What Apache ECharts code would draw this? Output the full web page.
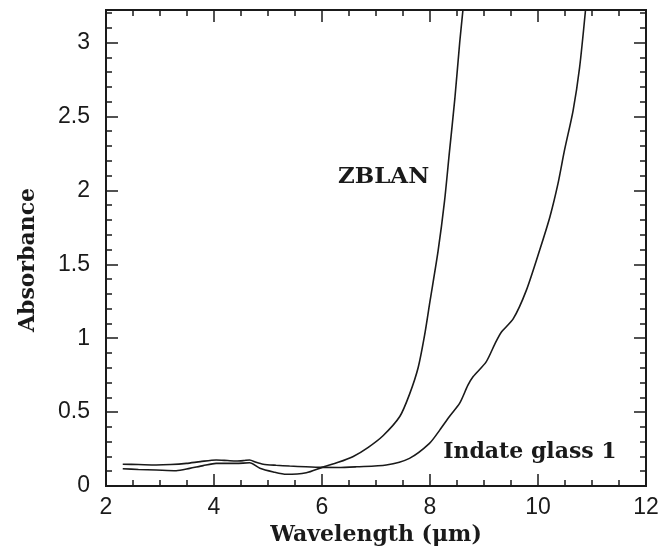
<!DOCTYPE html>
<html>
<head>
<meta charset="utf-8">
<style>
  html, body { margin: 0; padding: 0; background: #fff; }
  #chart { width: 662px; height: 556px; }
</style>
<script src="https://cdn.jsdelivr.net/npm/echarts@6/dist/echarts.min.js"></script>
</head>
<body>
<div id="chart"></div>
<script>
// Absorbance spectra of the two glasses (wavelength in µm)
const zblanWavelength = [2.31, 2.6, 2.93, 3.3, 3.55, 3.8, 4.04, 4.41, 4.66, 4.85, 5.1, 5.34, 5.71, 6.0, 6.3, 6.57, 6.85, 7.13, 7.44, 7.62, 7.78, 7.9, 8.0, 8.15, 8.27, 8.36, 8.46, 8.55, 8.61];
const zblanAbsorbance = [0.117, 0.112, 0.108, 0.103, 0.119, 0.138, 0.153, 0.153, 0.157, 0.12, 0.095, 0.079, 0.09, 0.126, 0.16, 0.198, 0.26, 0.34, 0.47, 0.62, 0.8, 1.02, 1.25, 1.59, 1.93, 2.26, 2.62, 3.0, 3.22];

const indateWavelength = [2.31, 2.6, 2.93, 3.2, 3.49, 3.75, 4.04, 4.25, 4.41, 4.55, 4.66, 4.78, 4.91, 5.15, 5.4, 5.7, 6.0, 6.3, 6.64, 7.19, 7.62, 7.99, 8.18, 8.36, 8.55, 8.7, 8.8, 9.04, 9.2, 9.32, 9.54, 9.78, 10.03, 10.22, 10.37, 10.49, 10.65, 10.77, 10.88];
const indateAbsorbance = [0.147, 0.145, 0.142, 0.145, 0.153, 0.165, 0.176, 0.172, 0.169, 0.172, 0.176, 0.16, 0.147, 0.14, 0.135, 0.13, 0.126, 0.125, 0.13, 0.142, 0.187, 0.288, 0.378, 0.47, 0.56, 0.68, 0.74, 0.84, 0.96, 1.04, 1.13, 1.32, 1.595, 1.82, 2.045, 2.27, 2.54, 2.83, 3.22];

const xTickValues = [2, 4, 6, 8, 10, 12];
const yTickValues = [0, 0.5, 1, 1.5, 2, 2.5, 3];

const pairs = (xs, ys) => xs.map((x, i) => [x, ys[i]]);

const INK = '#1a1a1a';
const SERIF = '"DejaVu Serif", "Liberation Serif", serif';
const SANS = '"Liberation Sans", Arial, sans-serif';
const X_MIN = 2, X_MAX = 12, Y_MIN = 0, Y_MAX = 3.22;

function xAx(pos, interval, len, labels, extra) {
  return Object.assign({
    type: 'value', position: pos, min: X_MIN, max: X_MAX, interval: interval,
    axisLine: { show: true, onZero: false, lineStyle: { color: INK, width: 2 } },
    axisTick: { show: true, inside: true, length: len, lineStyle: { color: INK, width: 1.5 } },
    axisLabel: labels ? {
      show: true, fontFamily: SANS, fontSize: 23, color: INK, margin: 10,
      formatter: v => xTickValues.includes(v) ? String(v) : ''
    } : { show: false },
    splitLine: { show: false }
  }, extra || {});
}

function yAx(pos, interval, len, labels, extra) {
  return Object.assign({
    type: 'value', position: pos, min: Y_MIN, max: Y_MAX, interval: interval,
    axisLine: { show: true, onZero: false, lineStyle: { color: INK, width: 2 } },
    axisTick: { show: true, inside: true, length: len, lineStyle: { color: INK, width: 1.5 } },
    axisLabel: labels ? {
      show: true, fontFamily: SANS, fontSize: 23, color: INK, margin: 16,
      showMaxLabel: false,
      formatter: v => yTickValues.includes(v) ? String(v) : ''
    } : { show: false },
    splitLine: { show: false }
  }, extra || {});
}

const chart = echarts.init(document.getElementById('chart'), null, { renderer: 'canvas' });

const lineStyle = { color: INK, width: 1.6 };

chart.setOption({
  backgroundColor: '#ffffff',
  animation: false,
  grid: { left: 106, right: 16, top: 10, bottom: 70, containLabel: false },
  xAxis: [
    xAx('bottom', 2, 12, true, {
      name: 'Wavelength (\u03bcm)', nameLocation: 'middle', nameGap: 38,
      nameTextStyle: { fontFamily: SERIF, fontWeight: 'bold', fontSize: 22, color: INK }
    }),
    xAx('bottom', 0.5, 6, false),
    xAx('top', 2, 12, false),
    xAx('top', 0.5, 6, false)
  ],
  yAxis: [
    yAx('left', 0.5, 12, true, {
      name: 'Absorbance', nameLocation: 'middle', nameGap: 67, nameRotate: 90,
      nameTextStyle: { fontFamily: SERIF, fontWeight: 'bold', fontSize: 22, color: INK, padding: [0, 24, 0, 0] }
    }),
    yAx('left', 0.1, 6, false),
    yAx('right', 0.5, 12, false),
    yAx('right', 0.1, 6, false)
  ],
  series: [
    {
      name: 'ZBLAN', type: 'line', xAxisIndex: 0, yAxisIndex: 0,
      data: pairs(zblanWavelength, zblanAbsorbance),
      showSymbol: false, smooth: 0.25, clip: true, lineStyle: lineStyle,
      markPoint: {
        symbol: 'circle', symbolSize: 0, silent: true,
        label: { show: true, position: 'inside', formatter: 'ZBLAN',
          fontFamily: SERIF, fontWeight: 'bold', fontSize: 23, color: INK },
        data: [{ coord: [7.14, 2.09] }]
      }
    },
    {
      name: 'Indate glass 1', type: 'line', xAxisIndex: 0, yAxisIndex: 0,
      data: pairs(indateWavelength, indateAbsorbance),
      showSymbol: false, smooth: 0.25, clip: true, lineStyle: lineStyle,
      markPoint: {
        symbol: 'circle', symbolSize: 0, silent: true,
        label: { show: true, position: 'inside', formatter: 'Indate glass 1',
          fontFamily: SERIF, fontWeight: 'bold', fontSize: 22, color: INK },
        data: [{ coord: [9.85, 0.23] }]
      }
    }
  ]
});
</script>
</body>
</html>
